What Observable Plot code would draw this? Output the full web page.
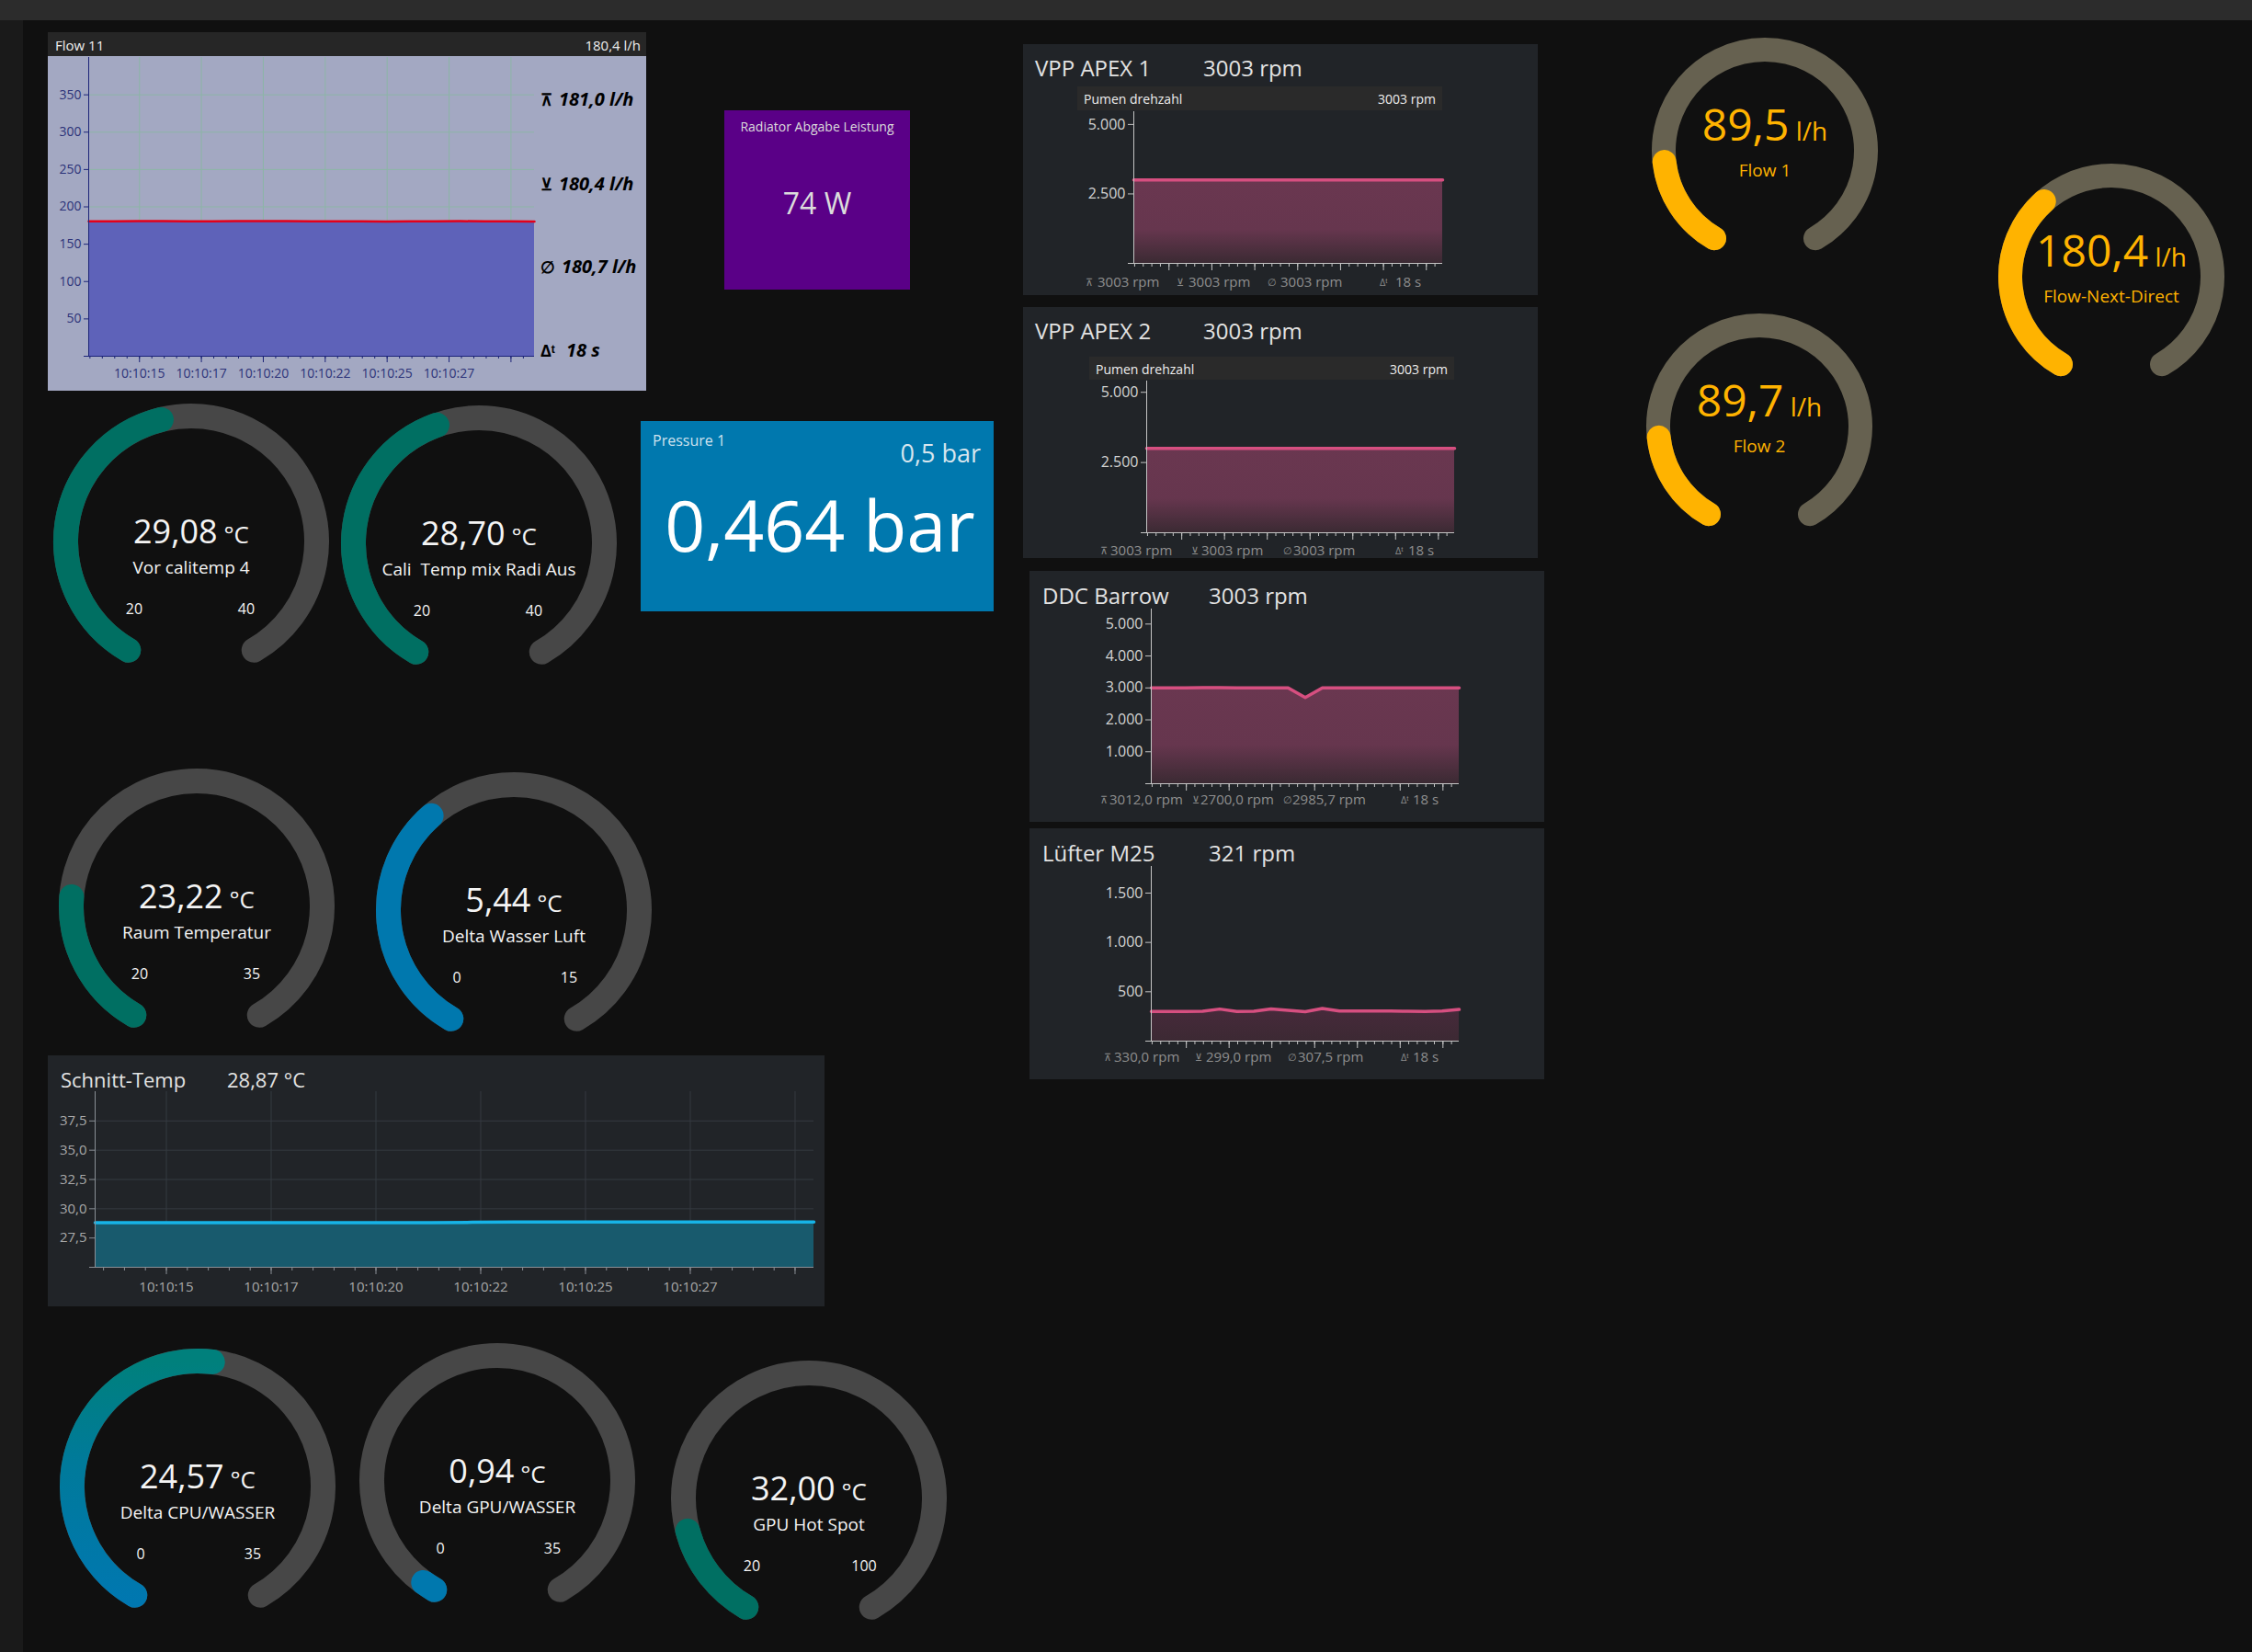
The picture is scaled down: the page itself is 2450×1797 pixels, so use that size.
<!DOCTYPE html>
<html><head><meta charset="utf-8">
<script src="https://cdn.jsdelivr.net/npm/d3@7"></script>
<script src="https://cdn.jsdelivr.net/npm/@observablehq/plot@0.6"></script>
<style>
html,body{margin:0;padding:0;background:#101010;width:2450px;height:1797px;overflow:hidden}
#page{position:relative;width:2450px;height:1797px;background:#101010;font-family:"Open Sans",sans-serif}
.box{position:absolute}
.box svg{display:block}
</style></head><body><div id="page"></div><script>
// ---------------- DATA ----------------
const sampleTimes = ["10:10:12.950","10:10:13.950","10:10:14.950","10:10:15.950","10:10:16.950","10:10:17.950","10:10:18.950","10:10:19.950","10:10:20.950","10:10:21.950","10:10:22.950","10:10:23.950","10:10:24.950","10:10:25.950","10:10:26.950","10:10:27.950","10:10:28.950","10:10:29.950","10:10:30.950"];
const schnittTimes = ["10:10:13.300","10:10:14.300","10:10:15.300","10:10:16.300","10:10:17.300","10:10:18.300","10:10:19.300","10:10:20.300","10:10:21.300","10:10:22.300","10:10:23.300","10:10:24.300","10:10:25.300","10:10:26.300","10:10:27.300","10:10:28.300","10:10:29.300","10:10:30.300","10:10:30.450"];
const flow11Values = [180.6,180.7,181.0,180.8,180.6,180.7,180.9,181.0,180.8,180.7,180.6,180.5,180.4,180.6,180.7,180.8,180.7,180.6,180.4];
const apex1Values = [3003,3003,3003,3003,3003,3003,3003,3003,3003,3003,3003,3003,3003,3003,3003,3003,3003,3003,3003];
const apex2Values = [3003,3003,3003,3003,3003,3003,3003,3003,3003,3003,3003,3003,3003,3003,3003,3003,3003,3003,3003];
const ddcValues = [3000,3000,3000,3012,3012,3003,3003,3003,3003,2700,3003,3003,3003,3003,3003,3003,3003,3003,3003];
const luefterValues = [300,300,300,302,325,301,302,327,312,299,330,305,305,305,305,302,300,305,321];
const schnittValues = [28.80,28.80,28.80,28.80,28.80,28.80,28.80,28.80,28.80,28.84,28.87,28.87,28.87,28.87,28.87,28.87,28.87,28.87,28.87];

const majorTickTimes = ["10:10:15.000","10:10:17.500","10:10:20.000","10:10:22.500","10:10:25.000","10:10:27.500","10:10:30.000"];
const labelTickTimes = ["10:10:15.000","10:10:17.500","10:10:20.000","10:10:22.500","10:10:25.000","10:10:27.500"];
const flowYTicks = [0,50,100,150,200,250,300,350];
const apexYTicks = [0,2500,5000];
const ddcYTicks = [0,1000,2000,3000,4000,5000];
const luefterYTicks = [0,500,1000,1500];
const schnittYTicks = [25,27.5,30,32.5,35,37.5];

const tempGaugeNames = ["Vor calitemp 4","Cali  Temp mix Radi Aus","Raum Temperatur","Delta Wasser Luft","Delta CPU/WASSER","Delta GPU/WASSER","GPU Hot Spot"];
const tempGaugeValues = [29.08,28.70,23.22,5.44,24.57,0.94,32.00];
const tempGaugeMin = [20,20,20,0,0,0,20];
const tempGaugeMax = [40,40,35,15,35,35,100];
const tempGaugeArcMax = [40,40,35,15,47,47,100];

const flowGaugeNames = ["Flow 1","Flow 2","Flow-Next-Direct"];
const flowGaugeValues = [89.5,89.7,180.4];
const flowGaugeMin = [0,0,0];
const flowGaugeMax = [500,500,500];

const rpmTitles = ["VPP APEX 1","VPP APEX 2","DDC Barrow","Lüfter M25"];
const rpmCurrent = [3003,3003,3003,321];
const rpmStatMax = [3003,3003,3012.0,330.0];
const rpmStatMin = [3003,3003,2700.0,299.0];
const rpmStatAvg = [3003,3003,2985.7,307.5];
const rpmStatDecimals = [0,0,1,1];
const statWindowSeconds = 18;

const flow11Current = 180.4, flow11Max = 181.0, flow11Min = 180.4, flow11Avg = 180.7;
const schnittCurrent = 28.87;
const radiatorPower = 74;
const pressureValue = 0.464, pressureSetpoint = 0.5;

// ---------------- HELPERS ----------------
const de = d3.formatLocale({decimal: ",", thousands: ".", grouping: [3], currency: ["", " €"]});
const fmtInt = de.format(",.0f");
const fmt1 = de.format(".1f");
const fmt2 = de.format(".2f");
const fmt3 = de.format(".3f");
const fmtY1 = de.format(".1f");
const parseT = d3.timeParse("%Y-%m-%d %H:%M:%S.%L");
const T = s => parseT("2024-05-01 " + s);
const fmtTime = d3.timeFormat("%H:%M:%S");
const FONT = "'Open Sans', sans-serif";
const page = d3.select("#page");

function box(x, y, w, h, bg) {
  return page.append("div").attr("class", "box")
    .style("left", x + "px").style("top", y + "px")
    .style("width", w + "px").style("height", h + "px")
    .style("background", bg || "transparent");
}

// background chrome
box(0, 0, 2450, 22, "#2c2c2c");
box(0, 22, 25, 1775, "#1a1a1a");

// ---------------- TIME CHARTS ----------------
function timeChart(c) {
  const data = c.times.map((s, i) => ({t: T(s), v: c.values[i]}));
  const x0 = T(c.xDomain[0]), x1 = T(c.xDomain[1]);
  const minor = d3.timeMillisecond.every(500).range(x0, x1);
  const majors = majorTickTimes.map(T);
  const labeled = labelTickTimes.map(T);
  const gid = c.id + "-grad";
  const base = c.yDomain[0];
  const marks = [];
  if (c.gradient) marks.push(() => {
    const defs = d3.create("svg:defs");
    const lg = defs.append("linearGradient").attr("id", gid).attr("x1", 0).attr("y1", 0).attr("x2", 0).attr("y2", 1);
    c.gradient.forEach(([o, col]) => lg.append("stop").attr("offset", o).attr("stop-color", col));
    return defs.node();
  });
  if (c.gridColor) {
    marks.push(Plot.gridY({ticks: c.yTicks.filter(v => v !== base), stroke: c.gridColor, strokeOpacity: 1, strokeWidth: 1}));
    marks.push(Plot.gridX({ticks: majors, stroke: c.gridColor, strokeOpacity: 1, strokeWidth: 1}));
  }
  marks.push(Plot.areaY(data, {x: "t", y1: base, y2: "v", fill: c.gradient ? `url(#${gid})` : c.fill, fillOpacity: 1, clip: true}));
  marks.push(Plot.lineY(data, {x: "t", y: "v", stroke: c.stroke, strokeWidth: c.strokeWidth}));
  marks.push(Plot.ruleX([x0], {stroke: c.axisColor}));
  marks.push(Plot.ruleY([base], {stroke: c.axisColor}));
  marks.push(Plot.axisY({ticks: c.yTicks, label: null, tickFormat: d => d === base ? "" : c.yFormat(d), tickSize: c.yTickSize, tickPadding: 3, stroke: c.axisColor, fill: c.labelColor, fontSize: c.fontSize}));
  marks.push(Plot.axisX({ticks: minor, label: null, tickSize: c.minorSize, tickFormat: () => "", stroke: c.axisColor}));
  marks.push(Plot.axisX({ticks: majors, label: null, tickSize: c.majorSize, tickFormat: () => "", stroke: c.axisColor}));
  if (c.timeLabels) marks.push(Plot.axisX({ticks: labeled, label: null, tickSize: 0, tickPadding: c.labelPad, tickFormat: fmtTime, fill: c.labelColor, fontSize: c.fontSize}));
  const svg = Plot.plot({
    width: c.w, height: c.h,
    marginTop: c.mt, marginRight: c.mr, marginBottom: c.mb, marginLeft: c.ml,
    style: {background: "transparent", fontFamily: FONT, overflow: "visible"},
    x: {type: "time", domain: [x0, x1], label: null},
    y: {domain: c.yDomain, label: null},
    marks
  });
  box(c.x, c.y, c.w, c.h).node().appendChild(svg);
}

// panels
box(52, 35, 651, 26, "#262626");
box(52, 61, 651, 364, "#a3a8c2");
box(788, 120, 202, 195, "#5a0087");
box(697, 458, 384, 207, "#0078ae");
const PANEL = "#212428";
box(1113, 48, 560, 273, PANEL);
box(1113, 334, 560, 273, PANEL);
box(1120, 621, 560, 273, PANEL);
box(1120, 901, 560, 273, PANEL);
box(52, 1148, 845, 273, PANEL);
box(1172, 94, 397, 26, "#2a2a2a");
box(1185, 388, 397, 25, "#2a2a2a");

const pinkGrad = [[0, "#6a3750"], [0.6, "#66364e"], [1, "#3b2a33"]];
const rpmBase = {times: sampleTimes, xDomain: ["10:10:12.950", "10:10:30.950"], yFormat: fmtInt, stroke: "#d64f80", strokeWidth: 3.5,
  axisColor: "#c4c4c4", labelColor: "#d4d4d4", fontSize: 16, yTickSize: 6, minorSize: 4, majorSize: 8, gradient: pinkGrad};

timeChart({id: "flow11", times: sampleTimes, values: flow11Values, xDomain: ["10:10:12.950", "10:10:30.950"], yDomain: [0, 400], yTicks: flowYTicks, yFormat: fmtInt,
  x: 52, y: 61, w: 651, h: 364, mt: 1, mr: 122, mb: 38, ml: 44,
  fill: "#5e62b9", stroke: "#e3001a", strokeWidth: 2.5, axisColor: "#1c2478", labelColor: "#2b3278", fontSize: 14,
  yTickSize: 5, minorSize: 3, majorSize: 7, gridColor: "#8cb5a6", timeLabels: true, labelPad: 14});

timeChart({...rpmBase, id: "apex1", values: apex1Values, yDomain: [0, 5460], yTicks: apexYTicks, x: 1113, y: 120, w: 560, h: 201, mt: 1, mr: 104, mb: 35, ml: 120});
timeChart({...rpmBase, id: "apex2", values: apex2Values, yDomain: [0, 5400], yTicks: apexYTicks, x: 1113, y: 413, w: 560, h: 194, mt: 1, mr: 91, mb: 28, ml: 134});
timeChart({...rpmBase, id: "ddc", values: ddcValues, yDomain: [0, 5470], yTicks: ddcYTicks, x: 1120, y: 660, w: 560, h: 234, mt: 2, mr: 93, mb: 42, ml: 132});
timeChart({...rpmBase, id: "luefter", values: luefterValues, yDomain: [0, 1770], yTicks: luefterYTicks, x: 1120, y: 940, w: 560, h: 234, mt: 2, mr: 93, mb: 42, ml: 132,
  gradient: [[0, "#472a3b"], [1, "#3c2933"]]});

timeChart({id: "schnitt", times: schnittTimes, values: schnittValues, xDomain: ["10:10:13.300", "10:10:30.450"], yDomain: [25, 40], yTicks: schnittYTicks, yFormat: fmtY1,
  x: 52, y: 1186, w: 845, h: 235, mt: 1, mr: 12, mb: 43, ml: 51,
  fill: "#185a6d", stroke: "#16b4e8", strokeWidth: 3.5, axisColor: "#8a8f96", labelColor: "#a8a8a8", fontSize: 15,
  yTickSize: 6, minorSize: 4, majorSize: 8, gridColor: "#353a41", timeLabels: true, labelPad: 16});

// ---------------- GAUGES ----------------
function gauge(cx, cy, rOuter, sw, value, min, arcMax, track, color, gradStops, id) {
  const size = 2 * rOuter + 20, c = size / 2, rMid = rOuter - sw / 2;
  const angle = Plot.scale
    ? Plot.scale({x: {type: "linear", domain: [min, arcMax], range: [-150, 150], clamp: true}})
    : {apply: d3.scaleLinear([min, arcMax], [-150, 150]).clamp(true)};
  const rad = a => (a - 90) * Math.PI / 180;
  const arcPath = (a0, a1) => { const p = d3.path(); p.arc(c, c, rMid, rad(a0), rad(a1), false); return p.toString(); };
  const svg = Plot.plot({
    width: size, height: size, margin: 0,
    style: {background: "transparent", overflow: "visible"},
    marks: [() => {
      const g = d3.create("svg:g");
      let stroke = color;
      if (gradStops) {
        const lg = g.append("defs").append("linearGradient").attr("id", id).attr("gradientUnits", "userSpaceOnUse")
          .attr("x1", 0).attr("y1", c + rMid).attr("x2", 0).attr("y2", c - rMid);
        gradStops.forEach(([o, col]) => lg.append("stop").attr("offset", o).attr("stop-color", col));
        stroke = `url(#${id})`;
      }
      g.append("path").attr("d", arcPath(-150, 150)).attr("fill", "none").attr("stroke", track)
        .attr("stroke-width", sw).attr("stroke-linecap", "round");
      g.append("path").attr("d", arcPath(-150, angle.apply(value))).attr("fill", "none").attr("stroke", stroke)
        .attr("stroke-width", sw).attr("stroke-linecap", "round");
      return g.node();
    }]
  });
  box(cx - c, cy - c, size, size).node().appendChild(svg);
}

const tempLayout = [[208, 589], [521, 591], [214, 986], [559, 990], [215, 1617], [541, 1611], [880, 1630]];
const tempColors = ["#006f62", "#006f62", "#006f62", "#0078ae", null, "#0078ae", "#006f62"];
tempGaugeValues.forEach((v, i) => {
  const [cx, cy] = tempLayout[i];
  gauge(cx, cy, 150, 27, v, tempGaugeMin[i], tempGaugeArcMax[i], "#474747", tempColors[i] || "#0078ae",
    tempColors[i] ? null : [[0, "#0077b2"], [0.6, "#007a9a"], [1, "#00807c"]], "tg" + i);
});
const flowLayout = [[1920, 164], [1914, 464], [2297, 301]];
flowGaugeValues.forEach((v, i) => {
  const [cx, cy] = flowLayout[i];
  gauge(cx, cy, 123, 26, v, flowGaugeMin[i], flowGaugeMax[i], "#666150", "#ffb300", null, "fg" + i);
});

// ---------------- TEXT OVERLAY ----------------
const overlay = page.append("svg").attr("width", 2450).attr("height", 1797)
  .style("position", "absolute").style("left", "0px").style("top", "0px").style("pointer-events", "none")
  .style("font-family", FONT);
function label(x, y, parts, o = {}) {
  const t = overlay.append("text").attr("x", x).attr("y", y)
    .attr("text-anchor", o.anchor || "start").attr("fill", o.color || "#e8e8e8")
    .attr("font-size", o.size || 16).attr("font-weight", o.weight || 400)
    .attr("font-style", o.style || "normal").style("white-space", "pre");
  (Array.isArray(parts) ? parts : [parts]).forEach(p => {
    if (typeof p === "string") t.append("tspan").text(p);
    else t.append("tspan").attr("font-size", p.size).text(p.text);
  });
  return t;
}

// Flow 11
label(60, 55, "Flow 11", {size: 15, color: "#eeeeee"});
label(697, 55, fmt1(flow11Current) + " l/h", {size: 15, color: "#eeeeee", anchor: "end"});
const fstat = {size: 20, color: "#000", weight: 700, style: "italic"};
[["⊼", fmt1(flow11Max) + " l/h", 115, 608], ["⊻", fmt1(flow11Min) + " l/h", 207, 608], ["∅", fmt1(flow11Avg) + " l/h", 297, 611], ["Δᵗ", statWindowSeconds + " s", 388, 616]]
  .forEach(([ic, txt, y, x]) => { label(588, y, ic, {size: 18, color: "#000", weight: 700}); label(x, y, txt, fstat); });

// Radiator
label(889, 143, "Radiator Abgabe Leistung", {size: 14, color: "#dcdcdc", anchor: "middle"});
label(889, 233, radiatorPower + " W", {size: 32, color: "#dcdcdc", anchor: "middle"});

// Pressure
label(710, 485, "Pressure 1", {size: 16, color: "#cfe2ee"});
label(1067, 503, fmt1(pressureSetpoint) + " bar", {size: 27, color: "#d8e6ef", anchor: "end"});
label(892, 600, fmt3(pressureValue) + " bar", {size: 77, color: "#ffffff", anchor: "middle"});

// RPM panels
const rpmLayout = [
  {tx: 1126, ty: 83, vx: 1309, sy: 312, icons: [1181, 1280, 1379, 1501], texts: [1194, 1293, 1393, 1518], hx: [1179, 1562], hy: 113},
  {tx: 1126, ty: 369, vx: 1309, sy: 604, icons: [1197, 1296, 1396, 1518], texts: [1208, 1307, 1407, 1532], hx: [1192, 1575], hy: 407},
  {tx: 1134, ty: 657, vx: 1315, sy: 875, icons: [1197, 1297, 1396, 1524], texts: [1207, 1306, 1406, 1537]},
  {tx: 1134, ty: 937, vx: 1315, sy: 1155, icons: [1201, 1300, 1401, 1524], texts: [1212, 1312, 1412, 1537]}
];
rpmTitles.forEach((title, i) => {
  const L = rpmLayout[i];
  const f = rpmStatDecimals[i] ? fmt1 : (v => String(v));
  label(L.tx, L.ty, title, {size: 24, color: "#e2e2e2"});
  label(L.vx, L.ty, rpmCurrent[i] + " rpm", {size: 24, color: "#e2e2e2"});
  if (L.hx) {
    label(L.hx[0], L.hy, "Pumen drehzahl", {size: 14, color: "#eeeeee"});
    label(L.hx[1], L.hy, rpmCurrent[i] + " rpm", {size: 14, color: "#eeeeee", anchor: "end"});
  }
  const vals = [f(rpmStatMax[i]) + " rpm", f(rpmStatMin[i]) + " rpm", f(rpmStatAvg[i]) + " rpm", statWindowSeconds + " s"];
  const icons = ["⊼", "⊻", "∅", "Δᵗ"];
  vals.forEach((v, k) => {
    label(L.icons[k], L.sy - 1, icons[k], {size: 11, color: "#8c8c8c"});
    label(L.texts[k], L.sy, v, {size: 15, color: "#8f8f8f"});
  });
});

// Schnitt-Temp
label(66, 1183, "Schnitt-Temp", {size: 22, color: "#e2e2e2"});
label(247, 1183, fmt2(schnittCurrent) + " °C", {size: 22, color: "#e2e2e2"});

// temp gauges text
tempGaugeValues.forEach((v, i) => {
  const [cx, cy] = tempLayout[i];
  label(cx, cy + 2, [fmt2(v), {text: " °C", size: 26}], {size: 36, color: "#f4f4f4", anchor: "middle"});
  label(cx, cy + 35, tempGaugeNames[i], {size: 19, color: "#f4f4f4", anchor: "middle"});
  label(cx - 62, cy + 79, String(tempGaugeMin[i]), {size: 16, color: "#f4f4f4", anchor: "middle"});
  label(cx + 60, cy + 79, String(tempGaugeMax[i]), {size: 16, color: "#f4f4f4", anchor: "middle"});
});
// flow gauges text
flowGaugeValues.forEach((v, i) => {
  const [cx, cy] = flowLayout[i];
  label(cx, cy - 11, [fmt1(v), {text: " l/h", size: 28}], {size: 48, color: "#ffb300", anchor: "middle"});
  label(cx, cy + 28, flowGaugeNames[i], {size: 19, color: "#ffb300", anchor: "middle"});
});
</script></body></html>
